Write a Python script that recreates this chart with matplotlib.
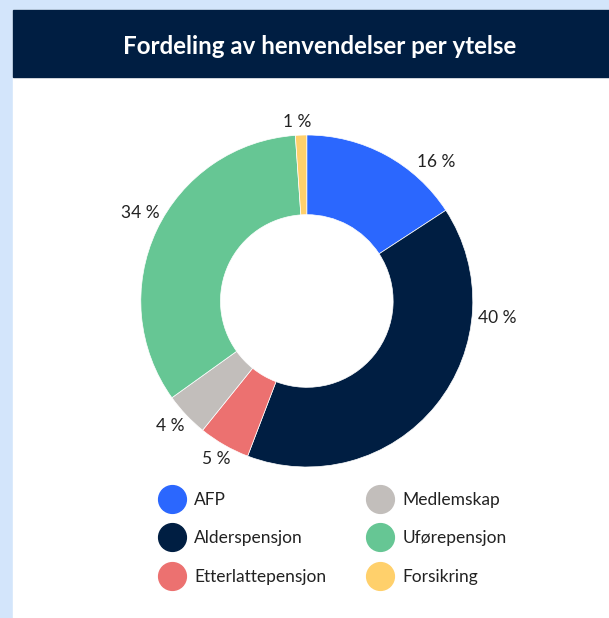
import numpy as np
import matplotlib
matplotlib.use('Agg')
from matplotlib import pyplot as plt
from matplotlib.patches import Rectangle
from matplotlib.lines import Line2D

plt.rcParams['font.family'] = ['Lato', 'DejaVu Sans']

categories = ['AFP', 'Alderspensjon', 'Etterlattepensjon', 'Medlemskap', 'Uførepensjon', 'Forsikring']
shares = [15.8, 40.0, 5.0, 4.3, 33.8, 1.1]
colors = ['#2b67fe', '#001e42', '#ec7170', '#c2bebb', '#66c694', '#ffd06b']

# label placement (angle in degrees, distance in radii)
label_angle = [47.2, -5.1, 240.1, 222.5, 152.0, 93.1]
label_dist = [1.145, 1.154, 1.096, 1.114, 1.133, 1.082]

W, H = 609, 618
fig = plt.figure(figsize=(W/100, H/100), dpi=100)
fig.patch.set_facecolor('#d3e5fb')
fig.patches.append(Rectangle((13/W, 0), 1, 1-10/H, transform=fig.transFigure, color='white', zorder=-2))
fig.patches.append(Rectangle((13/W, 1-76.7/H), 1, 66.7/H, transform=fig.transFigure, color='#001e42', zorder=-1))
fig.text(319.5/W, 1-46/H, 'Fordeling av henvendelser per ytelse', color='white',
         fontsize=17.4, fontweight='bold', ha='center', va='center')

cx, cy, r = 306.8, 301, 166
ax = fig.add_axes([(cx-200)/W, (H-cy-200)/H, 400/W, 400/H])
ax.pie(shares, colors=colors, startangle=90, counterclock=False,
       wedgeprops=dict(width=0.48, edgecolor='white', linewidth=0.5))
lim = 200/r
ax.set_xlim(-lim, lim)
ax.set_ylim(-lim, lim)
ax.set_aspect('equal')
ax.axis('off')

for v, a, d in zip(shares, label_angle, label_dist):
    t = np.deg2rad(a)
    ax.text(d*np.cos(t), d*np.sin(t), '%d %%' % round(v), fontsize=12.5, color='#222222',
            ha='center', va='center')

handles = [Line2D([], [], linestyle='none', marker='o', markersize=20, color=c) for c in colors]
fig.legend(handles, categories, ncol=2, frameon=False, fontsize=12.5,
           loc='upper left', bbox_to_anchor=(143/W, 1-476/H),
           handlelength=1.5, handletextpad=0.55, labelspacing=1.3, columnspacing=2.35,
           labelcolor='#222222')

fig.savefig('out.png', dpi=100)
